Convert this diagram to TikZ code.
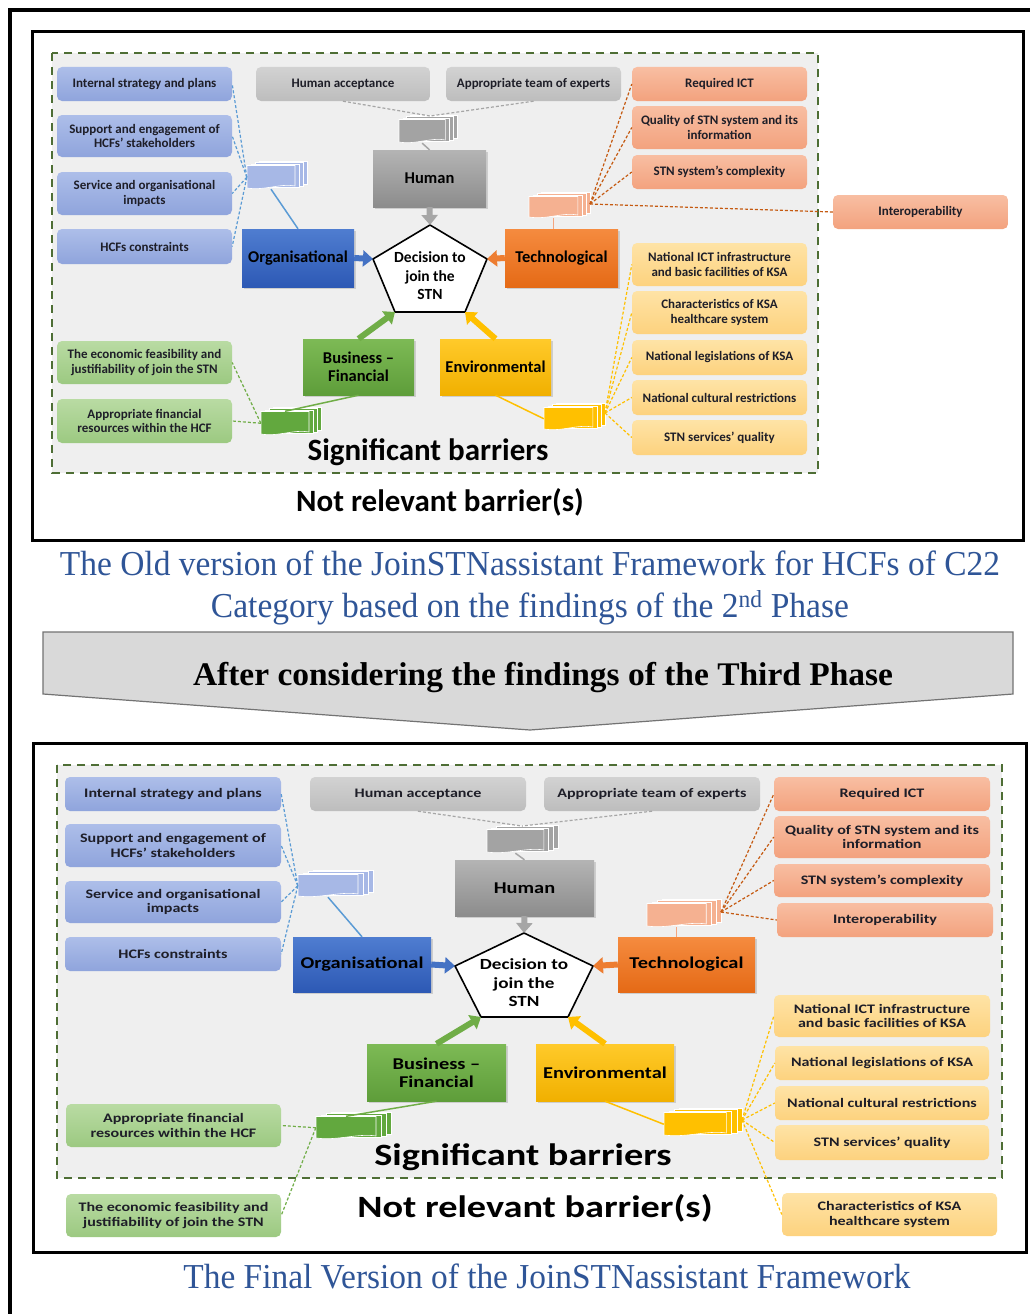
\documentclass[tikz,border=0pt]{standalone}
\usepackage{fontspec}
\usepackage{graphicx}
\usetikzlibrary{arrows.meta,shadows}
\newfontfamily\calfont{Carlito}
\newfontfamily\calwide{Carlito}[FakeStretch=1.235]
\newfontfamily\tnrfont{Liberation Serif}

\definecolor{lbT}{HTML}{ADBEE9}
\definecolor{lbB}{HTML}{8FA4DC}
\definecolor{lgT}{HTML}{D2D2D2}
\definecolor{lgB}{HTML}{BDBDBD}
\definecolor{loT}{HTML}{F8BEA2}
\definecolor{loB}{HTML}{F3A27E}
\definecolor{lyT}{HTML}{FEE3A6}
\definecolor{lyB}{HTML}{FDD27E}
\definecolor{lnT}{HTML}{B9DBA3}
\definecolor{lnB}{HTML}{9CC981}
\definecolor{orgT}{HTML}{4F7DD0}
\definecolor{orgB}{HTML}{2D59B5}
\definecolor{humT}{HTML}{B4B4B4}
\definecolor{humB}{HTML}{8C8C8C}
\definecolor{tecT}{HTML}{F58B3F}
\definecolor{tecB}{HTML}{E56A16}
\definecolor{busT}{HTML}{7DBA55}
\definecolor{busB}{HTML}{5E9D3A}
\definecolor{envT}{HTML}{FFCA2A}
\definecolor{envB}{HTML}{F1B000}
\definecolor{bgray}{HTML}{EFEFEF}
\definecolor{dgreen}{HTML}{4E6E35}
\definecolor{capblue}{HTML}{2F5597}
\definecolor{lnblue}{HTML}{5B9BD5}
\definecolor{lnorange}{HTML}{C55A11}
\definecolor{lnlorange}{HTML}{F4A57F}
\definecolor{lngray}{HTML}{A6A6A6}
\definecolor{lnyellow}{HTML}{FFC000}
\definecolor{lngreen}{HTML}{70AD47}
\definecolor{arblue}{HTML}{4472C4}
\definecolor{arorange}{HTML}{ED7D31}
\definecolor{argray}{HTML}{A6A6A6}
\definecolor{argreen}{HTML}{70AD47}
\definecolor{aryellow}{HTML}{FFC000}
\definecolor{stblue}{HTML}{A7B8E6}
\definecolor{stgray}{HTML}{A3A3A3}
\definecolor{storange}{HTML}{F5B191}
\definecolor{styellow}{HTML}{FFC000}
\definecolor{stgreen}{HTML}{62A83E}
\definecolor{txt}{HTML}{1E1E28}

\tikzset{
  sbox/.style={rounded corners=5pt, align=center, text=txt, inner sep=1pt},
  tf/.style={font=\calfont\bfseries\fontsize{13}{14.7}\selectfont},
  bf/.style={font=\calwide\bfseries\fontsize{13}{14.7}\selectfont},
  tcat/.style={font=\calfont\bfseries\fontsize{16.5}{18}\selectfont},
  bcat/.style={font=\calwide\bfseries\fontsize{16.5}{18}\selectfont},
  tdec/.style={font=\calfont\bfseries\fontsize{15.5}{18.5}\selectfont},
  bdec/.style={font=\calwide\bfseries\fontsize{15.5}{18.5}\selectfont},
  tbig/.style={font=\calfont\bfseries\fontsize{31}{34}\selectfont, anchor=base},
  bbig/.style={font=\calwide\bfseries\fontsize{31}{34}\selectfont, anchor=base},
  blueb/.style={sbox, top color=lbT, bottom color=lbB},
  grayb/.style={sbox, top color=lgT, bottom color=lgB},
  orangeb/.style={sbox, top color=loT, bottom color=loB},
  yellowb/.style={sbox, top color=lyT, bottom color=lyB},
  greenb/.style={sbox, top color=lnT, bottom color=lnB},
  catb/.style={align=center, text=black, inner sep=1pt,
    drop shadow={shadow xshift=2pt, shadow yshift=-2pt, opacity=0.3}},
  orgb/.style={catb, top color=orgT, bottom color=orgB},
  humb/.style={catb, top color=humT, bottom color=humB},
  tecb/.style={catb, top color=tecT, bottom color=tecB},
  busb/.style={catb, top color=busT, bottom color=busB},
  envb/.style={catb, top color=envT, bottom color=envB},
  dcon/.style={dash pattern=on 3pt off 2pt, line width=1.2pt},
  scon/.style={line width=1.5pt},
  fat/.style={line width=6pt, -{Triangle[length=10pt,width=16pt]}},
  pent/.style={fill=white, draw=black, line width=1.6pt, line join=miter},
  frame/.style={draw=black, line width=3pt},
  zone/.style={draw=dgreen, fill=bgray, line width=2pt, dash pattern=on 8pt off 6pt},
  capt/.style={text=capblue, font=\tnrfont\fontsize{35}{35}\selectfont, anchor=base, inner sep=0pt},
}

% box: name, style, x1, y1, x2, y2, text
\newcommand{\BX}[7]{\node[#2, minimum width={(#5-#3)*1pt}, minimum height={(#6-#4)*1pt}] (#1) at ({(#3+#5)/2},{(#4+#6)/2}) {#7};}

% stack of documents: name, x1, y1, x2, y2, colour
\newcommand{\DOCS}[6]{%
  \pgfmathsetmacro{\stdx}{(#4-#2)/15}%
  \pgfmathsetmacro{\stsw}{#4-#2-3*\stdx}%
  \pgfmathsetmacro{\stya}{#3+4.5}%
  \foreach \k in {3,2,1}{%
    \filldraw[fill=#6, draw=white, line width=0.6pt] ({#2+\stdx*\k},{\stya-1.5*\k}) rectangle ({#2+\stsw+\stdx*\k},{#5-1.5*\k});
  }%
  \filldraw[fill=#6, draw=white, line width=0.6pt] (#2,\stya) -- ({#2+\stsw},\stya) -- ({#2+\stsw},{#5-3}) .. controls ({#2+0.7*\stsw},{#5-6}) and ({#2+0.35*\stsw},{#5+2}) .. (#2,{#5-1}) -- cycle;
  \node[inner sep=0pt, minimum width={\stsw*1pt}, minimum height={(#5-\stya)*1pt}] (#1) at ({#2+\stsw/2},{(\stya+#5)/2}) {};
}

\begin{document}
\begin{tikzpicture}[x=1pt,y=-1pt]
\useasboundingbox (0,0) rectangle (1030,1314);
\fill[white] (0,0) rectangle (1030,1314);
\draw[line width=4pt] (10,1314) -- (10,10) -- (1030,10);

%================ TOP DIAGRAM ================
\draw[frame] (32,32) rectangle (1023,540);
\draw[zone] (52,53) rectangle (818,473);

\BX{ib1}{blueb,tf}{57}{67}{232}{101}{Internal strategy and plans}
\BX{ib2}{blueb,tf}{57}{115}{232}{157}{Support and engagement of\\HCFs’ stakeholders}
\BX{ib3}{blueb,tf}{57}{172}{232}{215}{Service and organisational\\impacts}
\BX{ib4}{blueb,tf}{57}{229}{232}{264}{HCFs constraints}

\BX{ha1}{grayb,tf}{256}{67}{430}{101}{Human acceptance}
\BX{at1}{grayb,tf}{446}{67}{621}{101}{Appropriate team of experts}

\BX{rq1}{orangeb,tf}{632}{67}{807}{101}{Required ICT}
\BX{qu1}{orangeb,tf}{632}{106}{807}{149}{Quality of STN system and its\\information}
\BX{cx1}{orangeb,tf}{632}{155}{807}{189}{STN system’s complexity}
\BX{io1}{orangeb,tf}{833}{195}{1008}{229}{Interoperability}

\BX{ni1}{yellowb,tf}{632}{243}{807}{286}{National ICT infrastructure\\and basic facilities of KSA}
\BX{ch1}{yellowb,tf}{632}{291}{807}{334}{Characteristics of KSA\\healthcare system}
\BX{le1}{yellowb,tf}{632}{340}{807}{375}{National legislations of KSA}
\BX{cu1}{yellowb,tf}{632}{380}{807}{415}{National cultural restrictions}
\BX{sq1}{yellowb,tf}{632}{420}{807}{455}{STN services’ quality}

\BX{ec1}{greenb,tf}{57}{341}{232}{384}{The economic feasibility and\\justifiability of join the STN}
\BX{af1}{greenb,tf}{57}{399}{232}{443}{Appropriate financial\\resources within the HCF}

\BX{hum1}{humb,tcat}{373}{150}{486}{207}{Human}
\BX{org1}{orgb,tcat}{242}{229}{354}{287}{Organisational}
\BX{tec1}{tecb,tcat}{505}{229}{618}{287}{Technological}
\BX{bus1}{busb,tcat}{303}{339}{414}{395}{Business –\\Financial}
\BX{env1}{envb,tcat}{440}{339}{551}{395}{Environmental}

\coordinate (dT1) at (430,225);
\coordinate (dR1) at (487,259);
\coordinate (dBR1) at (465,312);
\coordinate (dBL1) at (395,312);
\coordinate (dL1) at (373,259);
\draw[pent] (dT1) -- (dR1) -- (dBR1) -- (dBL1) -- (dL1) -- cycle;
\node[tdec, align=center] (dec1) at (430,276) {Decision to\\join the\\STN};

\DOCS{bst1}{247}{161}{307}{189}{stblue}
\DOCS{gst1}{399}{115}{457}{143}{stgray}
\DOCS{ost1}{529}{192}{590}{218}{storange}
\DOCS{yst1}{544}{403}{605}{430}{styellow}
\DOCS{grs1}{261}{407}{321}{435}{stgreen}
\coordinate (gst1T) at (430,116);
\coordinate (ost1R) at (590,204);
\coordinate (yst1R) at (605,413);

\foreach \b in {ib1,ib2,ib3,ib4} \draw[dcon, lnblue] (bst1.west) -- (\b.east);
\draw[scon, lnblue] (bst1.south) -- (org1.north);
\draw[dcon, lngray] (ha1.south) -- (gst1T);
\draw[dcon, lngray] (at1.south) -- (gst1T);
\draw[scon, lngray] (gst1.south) -- (hum1.north);
\foreach \b in {rq1,qu1,cx1,io1} \draw[dcon, lnorange] (ost1R) -- (\b.west);
\draw[scon, lnlorange] (ost1.south) -- (ost1.south |- tec1.north);
\foreach \b in {ni1,ch1,le1,cu1,sq1} \draw[dcon, lnyellow] (yst1R) -- (\b.west);
\draw[scon, lnyellow] (env1.south) -- (yst1.west);
\draw[scon, lngreen] (bus1.south) -- (grs1.north);
\draw[dcon, lngreen] (grs1.west) -- (ec1.east);
\draw[dcon, lngreen] (grs1.west) -- (af1.east);

\draw[fat, argray] (hum1.south) -- (dT1);
\draw[fat, arblue] (org1.east) -- (dL1);
\draw[fat, arorange] (tec1.west) -- (dR1);
\draw[fat, argreen] (bus1.north) -- (dBL1);
\draw[fat, aryellow] (env1.north) -- (dBR1);

\node[tbig] (sig1) at (428,460) {Significant barriers};
\node[tbig] (nrb1) at (440,511) {Not relevant barrier(s)};

%================ MIDDLE ================
\node[capt] (cap1) at (530,575) {\resizebox{940pt}{\height}{The Old version of the JoinSTNassistant Framework for HCFs of C22}};
\node[capt] (cap2) at (530,617) {\resizebox{638pt}{\height}{Category based on the findings of the 2\textsuperscript{nd} Phase}};

\coordinate (ar1) at (43,632);
\coordinate (ar2) at (1013,632);
\coordinate (ar3) at (1013,694);
\coordinate (ar4) at (530,730);
\coordinate (ar5) at (43,694);
\filldraw[fill=black!15, draw=black!55, line width=1.2pt] (ar1) -- (ar2) -- (ar3) -- (ar4) -- (ar5) -- cycle;
\node[font=\tnrfont\bfseries\fontsize{33}{33}\selectfont, anchor=base, inner sep=0pt] (after) at (543,685) {\resizebox{700pt}{\height}{After considering the findings of the Third Phase}};

%================ BOTTOM DIAGRAM ================
\draw[frame] (33,743) rectangle (1026,1252);
\draw[zone] (57,765) rectangle (1002,1178);

\BX{ib5}{blueb,bf}{65}{777}{281}{811}{Internal strategy and plans}
\BX{ib6}{blueb,bf}{65}{824}{281}{867}{Support and engagement of\\HCFs’ stakeholders}
\BX{ib7}{blueb,bf}{65}{881}{281}{923}{Service and organisational\\impacts}
\BX{ib8}{blueb,bf}{65}{937}{281}{971}{HCFs constraints}

\BX{ha2}{grayb,bf}{310}{777}{526}{811}{Human acceptance}
\BX{at2}{grayb,bf}{544}{777}{760}{811}{Appropriate team of experts}

\BX{rq2}{orangeb,bf}{774}{777}{990}{811}{Required ICT}
\BX{qu2}{orangeb,bf}{774}{816}{990}{858}{Quality of STN system and its\\information}
\BX{cx2}{orangeb,bf}{774}{864}{990}{897}{STN system’s complexity}
\BX{io2}{orangeb,bf}{777}{903}{993}{937}{Interoperability}

\BX{ni2}{yellowb,bf}{774}{995}{990}{1037}{National ICT infrastructure\\and basic facilities of KSA}
\BX{le2}{yellowb,bf}{775}{1046}{989}{1080}{National legislations of KSA}
\BX{cu2}{yellowb,bf}{775}{1086}{989}{1120}{National cultural restrictions}
\BX{sq2}{yellowb,bf}{775}{1125}{989}{1160}{STN services’ quality}
\BX{ch2}{yellowb,bf}{782}{1193}{997}{1236}{Characteristics of KSA\\healthcare system}

\BX{af2}{greenb,bf}{66}{1104}{281}{1147}{Appropriate financial\\resources within the HCF}
\BX{ec2}{greenb,bf}{66}{1194}{281}{1237}{The economic feasibility and\\justifiability of join the STN}

\BX{hum2}{humb,bcat}{455}{860}{594}{916}{Human}
\BX{org2}{orgb,bcat}{293}{937}{431}{992}{Organisational}
\BX{tec2}{tecb,bcat}{618}{937}{755}{992}{Technological}
\BX{bus2}{busb,bcat}{367}{1044}{506}{1101}{Business –\\Financial}
\BX{env2}{envb,bcat}{536}{1044}{674}{1101}{Environmental}

\coordinate (dT2) at (524,933);
\coordinate (dR2) at (593,966);
\coordinate (dBR2) at (568,1017);
\coordinate (dBL2) at (481,1017);
\coordinate (dL2) at (455,966);
\draw[pent] (dT2) -- (dR2) -- (dBR2) -- (dBL2) -- (dL2) -- cycle;
\node[bdec, align=center] (dec2) at (524,983) {Decision to\\join the\\STN};

\DOCS{bst2}{298}{870}{373}{897}{stblue}
\DOCS{gst2}{487}{825}{558}{853}{stgray}
\DOCS{ost2}{647}{899}{721}{927}{storange}
\DOCS{yst2}{664}{1108}{742}{1136}{styellow}
\DOCS{grs2}{316}{1112}{391}{1139}{stgreen}
\coordinate (gst2T) at (522,826);
\coordinate (ost2R) at (721,912);
\coordinate (yst2R) at (742,1120);

\foreach \b in {ib5,ib6,ib7,ib8} \draw[dcon, lnblue] (bst2.west) -- (\b.east);
\draw[scon, lnblue] (bst2.south) -- (org2.north);
\draw[dcon, lngray] (ha2.south) -- (gst2T);
\draw[dcon, lngray] (at2.south) -- (gst2T);
\draw[scon, lngray] (gst2.south) -- (hum2.north);
\foreach \b in {rq2,qu2,cx2,io2} \draw[dcon, lnorange] (ost2R) -- (\b.west);
\draw[scon, lnlorange] (ost2.south) -- (ost2.south |- tec2.north);
\foreach \b in {ni2,le2,cu2,sq2,ch2} \draw[dcon, lnyellow] (yst2R) -- (\b.west);
\draw[scon, lnyellow] (env2.south) -- (yst2.west);
\draw[scon, lngreen] (bus2.south) -- (grs2.north);
\draw[dcon, lngreen] (grs2.west) -- (af2.east);
\draw[dcon, lngreen] (grs2.west) -- (ec2.east);

\draw[fat, argray] (hum2.south) -- (dT2);
\draw[fat, arblue] (org2.east) -- (dL2);
\draw[fat, arorange] (tec2.west) -- (dR2);
\draw[fat, argreen] (bus2.north) -- (dBL2);
\draw[fat, aryellow] (env2.north) -- (dBR2);

\node[bbig] (sig2) at (523,1165) {Significant barriers};
\node[bbig] (nrb2) at (535,1217) {Not relevant barrier(s)};

\node[capt] (cap3) at (547,1288) {\resizebox{727pt}{\height}{The Final Version of the JoinSTNassistant Framework}};
\end{tikzpicture}
\end{document}
